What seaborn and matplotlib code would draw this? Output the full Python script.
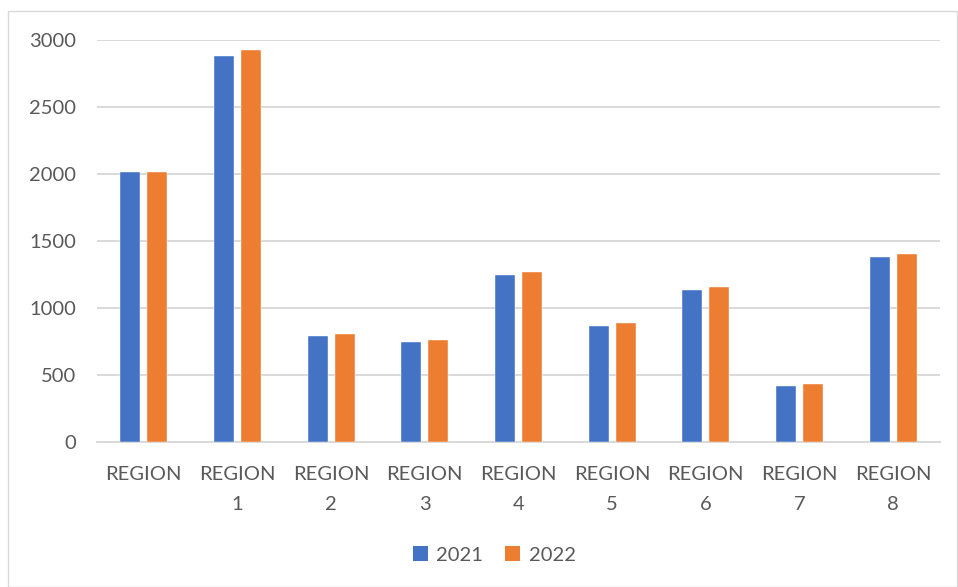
import matplotlib
matplotlib.use("Agg")
import matplotlib.pyplot as plt
from matplotlib.patches import Rectangle, Patch
import seaborn as sns
import pandas as pd

categories = ["REGION", "REGION\n1", "REGION\n2", "REGION\n3", "REGION\n4",
              "REGION\n5", "REGION\n6", "REGION\n7", "REGION\n8"]
series_names = ["2021", "2022"]
values_2021 = [2020, 2880, 790, 745, 1250, 870, 1140, 422, 1380]
values_2022 = [2020, 2930, 805, 760, 1270, 890, 1160, 433, 1405]
y_ticks = [0, 500, 1000, 1500, 2000, 2500, 3000]
colors = ["#4472C4", "#ED7D31"]

df = pd.DataFrame({
    "cat": categories * 2,
    "year": [series_names[0]] * len(categories) + [series_names[1]] * len(categories),
    "val": values_2021 + values_2022,
})

sns.set_theme(style="white")
plt.rcParams["font.family"] = ["Lato", "DejaVu Sans"]
text_color = "#595959"
fs = 14.5

fig = plt.figure(figsize=(9.58, 5.87), dpi=100)
ax = fig.add_axes([97/958, 1 - 442.3/587, (940-97)/958, (442.3-40.3)/587])

sns.barplot(data=df, x="cat", y="val", hue="year", order=categories,
            hue_order=series_names, palette=colors, saturation=1, width=0.574, gap=0.26,
            edgecolor="white", linewidth=0.3, ax=ax, legend=False, zorder=3)

ax.set_ylim(0, 3000)
ax.set_xlim(-0.5, len(categories) - 0.5)
ax.set_yticks(y_ticks)
ax.yaxis.grid(True, color="#d9d9d9", linewidth=1.4, zorder=0)
ax.set_axisbelow(True)
for s in ["top", "right", "left"]:
    ax.spines[s].set_visible(False)
ax.spines["bottom"].set_color("#d9d9d9")
ax.spines["bottom"].set_linewidth(1.4)
ax.set_xlabel("")
ax.set_ylabel("")
ax.tick_params(axis="y", length=0, pad=15, labelsize=fs, labelcolor=text_color)
ax.tick_params(axis="x", length=0, pad=17, labelsize=fs, labelcolor=text_color)
for lbl in ax.get_xticklabels():
    lbl.set_linespacing(1.95)
    lbl.set_verticalalignment("top")

handles = [Patch(facecolor=c, edgecolor="none") for c in colors]
fig.legend(handles, series_names, loc="center", bbox_to_anchor=(0.516, 1 - 555/587),
           ncol=2, frameon=False, fontsize=fs, labelcolor=text_color,
           handlelength=0.75, handleheight=0.75, handletextpad=0.4, columnspacing=1.1)

fig.patches.append(Rectangle((8/958, 0), (957-8)/958, 1 - 11/587, transform=fig.transFigure,
                             fill=False, edgecolor="#d9d9d9", linewidth=1.0))

fig.savefig("out.png", dpi=100)
